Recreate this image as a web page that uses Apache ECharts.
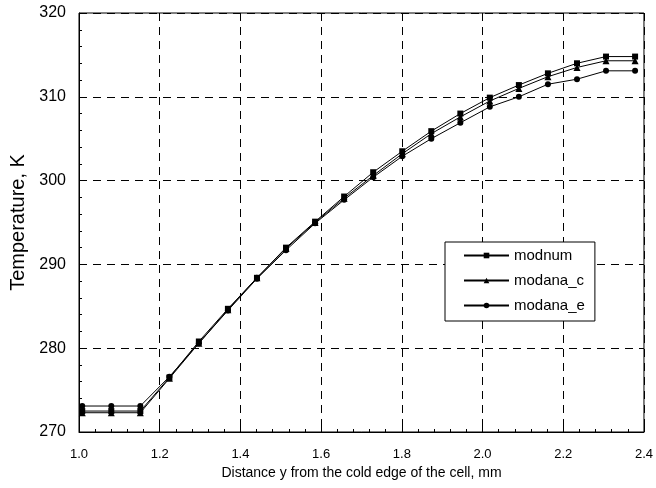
<!DOCTYPE html>
<html>
<head>
<meta charset="utf-8">
<script src="https://cdn.jsdelivr.net/npm/echarts@6/dist/echarts.min.js"></script>
<style>html,body{margin:0;padding:0;background:#fff}#c{width:656px;height:488px}</style>
</head>
<body>
<div id="c"></div>
<script>
var xValues = [1.008, 1.080, 1.152, 1.224, 1.297, 1.369, 1.441, 1.513, 1.585, 1.657, 1.729, 1.801, 1.873, 1.945, 2.018, 2.090, 2.162, 2.234, 2.306, 2.378];
var modnum   = [272.5, 272.5, 272.5, 276.5, 280.8, 284.7, 288.4, 292.0, 295.1, 298.1, 301.0, 303.5, 305.9, 308.0, 309.9, 311.4, 312.8, 314.0, 314.8, 314.8];
var modana_c = [272.3, 272.3, 272.3, 276.4, 280.6, 284.6, 288.4, 291.9, 295.0, 297.9, 300.6, 303.2, 305.6, 307.6, 309.5, 311.0, 312.4, 313.5, 314.3, 314.3];
var modana_e = [273.1, 273.1, 273.1, 276.6, 280.6, 284.5, 288.3, 291.7, 294.9, 297.7, 300.4, 302.9, 305.0, 306.9, 308.8, 310.0, 311.5, 312.1, 313.1, 313.1];
var seriesNames = ['modnum', 'modana_c', 'modana_e'];
var xTitle = 'Distance y from the cold edge of the cell, mm';
var yTitle = 'Temperature, K';

function pairs(ys){ return xValues.map(function(x,i){ return [x, ys[i]]; }); }
var font = 'Liberation Sans, Arial, sans-serif';
function mk(name, ys, sym, size){
  return {
    name: name, type: 'line', data: pairs(ys), symbol: sym, symbolSize: size,
    showAllSymbol: true,
    lineStyle: {color: '#000', width: 1}, itemStyle: {color: '#000', borderWidth: 0},
    emphasis: {disabled: true}, animation: false, z: 3
  };
}
var chart = echarts.init(document.getElementById('c'));
chart.setOption({
  animation: false,
  backgroundColor: '#fff',
  grid: {left: 79, right: 10, top: 13, bottom: 56, show: true, borderColor: '#000', borderWidth: 1, backgroundColor: 'transparent'},
  legend: {
    data: seriesNames,
    orient: 'vertical', left: 445, top: 242,
    backgroundColor: '#fff', borderColor: '#000', borderWidth: 1,
    padding: [6, 10, 8, 18], itemGap: 10, itemWidth: 45, itemHeight: 7,
    textStyle: {fontFamily: font, fontSize: 15, color: '#000'},
    selectedMode: false
  },
  xAxis: {
    type: 'value', min: 1.0, max: 2.4, interval: 0.2,
    name: xTitle, nameLocation: 'middle', nameGap: 34,
    nameTextStyle: {fontFamily: font, fontSize: 14, color: '#000'},
    axisLine: {show: true, lineStyle: {color: '#000', width: 1}},
    axisTick: {show: true, inside: true, length: 5, lineStyle: {color: '#000'}},
    minorTick: {show: true, splitNumber: 5, length: 3, lineStyle: {color: '#000'}},
    axisLabel: {fontFamily: font, fontSize: 13, color: '#000', margin: 16, formatter: function(v){ return v.toFixed(1); }},
    splitLine: {show: true, lineStyle: {color: '#000', type: [8, 6], width: 1}}
  },
  yAxis: {
    type: 'value', min: 270, max: 320, interval: 10,
    name: yTitle, nameLocation: 'middle', nameGap: 50,
    nameTextStyle: {fontFamily: font, fontSize: 20, color: '#000'},
    axisLine: {show: true, lineStyle: {color: '#000', width: 1}},
    axisTick: {show: true, inside: true, length: 5, lineStyle: {color: '#000'}},
    minorTick: {show: true, splitNumber: 5, length: 3, lineStyle: {color: '#000'}},
    axisLabel: {fontFamily: font, fontSize: 16, color: '#000', margin: 13},
    splitLine: {show: true, lineStyle: {color: '#000', type: [8, 6], width: 1}}
  },
  series: [
    mk(seriesNames[0], modnum, 'rect', 6),
    mk(seriesNames[1], modana_c, 'triangle', 7),
    mk(seriesNames[2], modana_e, 'circle', 6)
  ]
});
</script>
</body>
</html>
